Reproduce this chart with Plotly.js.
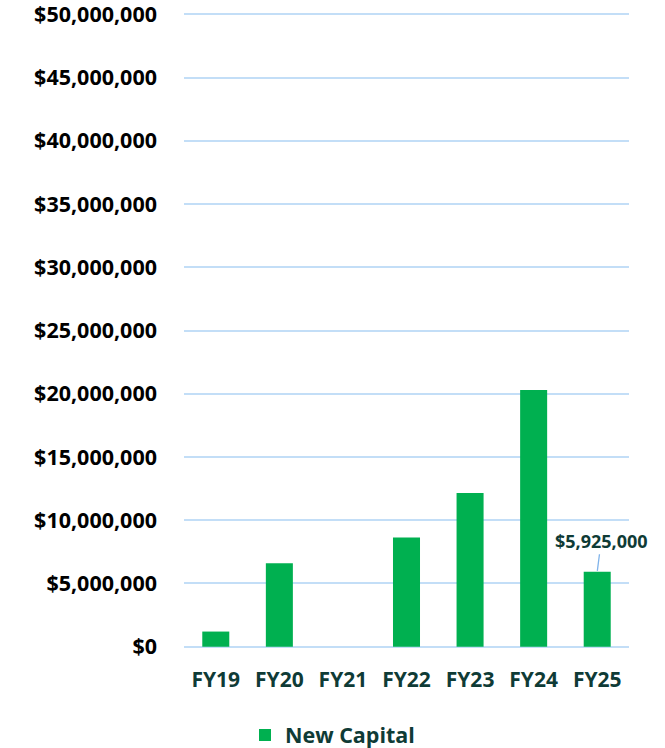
<!DOCTYPE html>
<html>
<head>
<meta charset="utf-8">
<script src="https://cdn.plot.ly/plotly-3.0.1.min.js"></script>
<style>html,body{margin:0;padding:0;background:#fff;}#chart{width:665px;height:748px;}</style>
</head>
<body>
<div id="chart"></div>
<script>
const categories = ["FY19", "FY20", "FY21", "FY22", "FY23", "FY24", "FY25"];
const newCapital = [1200000, 6600000, 0, 8630000, 12150000, 20300000, 5925000];
const yTickVals = [0, 5000000, 10000000, 15000000, 20000000, 25000000, 30000000, 35000000, 40000000, 45000000, 50000000];
const yTickText = ["$0", "$5,000,000", "$10,000,000", "$15,000,000", "$20,000,000", "$25,000,000", "$30,000,000", "$35,000,000", "$40,000,000", "$45,000,000", "$50,000,000"];
const labelIndex = 6;
const labelText = "$5,925,000";

const FONT = "Open Sans, Liberation Sans, sans-serif";
const trace = {
  type: "bar",
  x: categories,
  y: newCapital,
  name: "New Capital",
  marker: {color: "#00b050"},
  hoverinfo: "x+y"
};

const layout = {
  width: 665, height: 748,
  margin: {l: 184, r: 36, t: 12.7, b: 99.7},
  paper_bgcolor: "#ffffff",
  plot_bgcolor: "#ffffff",
  bargap: 0.575,
  showlegend: true,
  legend: {
    orientation: "h",
    xref: "container", yref: "container",
    x: 0.5, xanchor: "center",
    y: 0.0174, yanchor: "middle",
    font: {family: FONT, size: 21.5, color: "#0f3b36", weight: "bold"}
  },
  xaxis: {
    type: "category",
    range: [-0.5, 6.5],
    showgrid: false,
    zeroline: false,
    showline: false,
    ticks: "",
    tickfont: {family: FONT, size: 21, color: "#0f3b36", weight: "bold"},
    ticklabelstandoff: 17
  },
  yaxis: {
    range: [-100000, 50100000],
    tickvals: yTickVals,
    ticktext: yTickText,
    showgrid: true,
    gridcolor: "#c3def7",
    gridwidth: 2,
    zeroline: false,
    showline: false,
    ticks: "",
    ticklabeloverflow: "allow",
    tickfont: {family: FONT, size: 21.5, color: "#000000", weight: "bold"},
    ticklabelstandoff: 26
  },
  annotations: [{
    x: categories[labelIndex],
    y: newCapital[labelIndex],
    text: labelText,
    showarrow: true,
    arrowhead: 0,
    arrowwidth: 1.3,
    arrowcolor: "#7fb3ea",
    ax: 4,
    ay: -31,
    standoff: 1,
    font: {family: FONT, size: 18, color: "#0f3b36", weight: "bold"}
  }]
};

Plotly.newPlot("chart", [trace], layout, {displayModeBar: false, staticPlot: true});
</script>
</body>
</html>
